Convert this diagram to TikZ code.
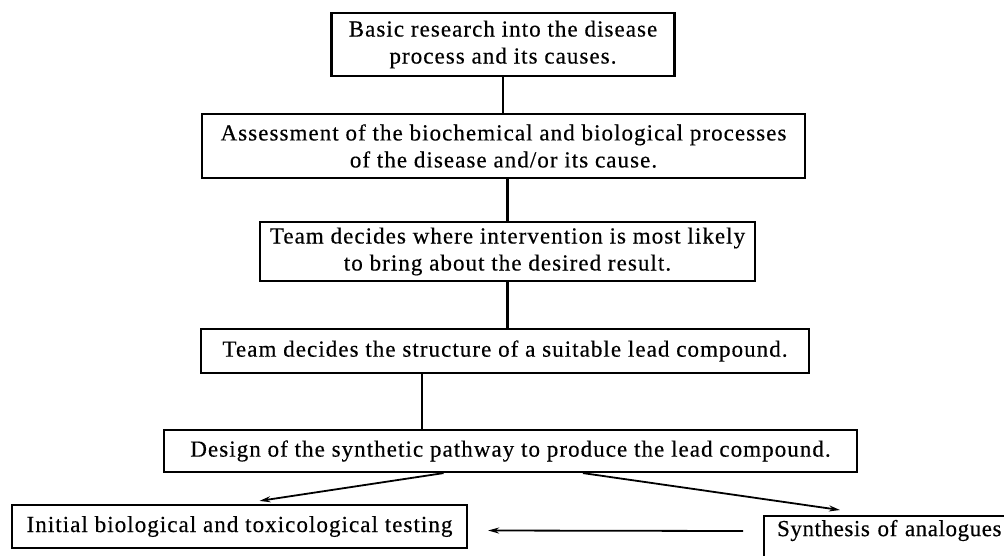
\documentclass[tikz,border=0pt]{standalone}
\usepackage{fontspec}
\setmainfont{Liberation Serif}[LetterSpace=4.6,FakeBold=0.4]
\usetikzlibrary{arrows.meta,calc}
\begin{document}
\begin{tikzpicture}[x=1pt,y=-1pt,
  box/.style={draw,line width=2.2pt,rectangle,inner sep=0pt,align=center,
    font=\fontsize{23}{27}\selectfont},
  link/.style={line width=2.2pt},
  arr/.style={line width=1.8pt,-{Stealth[length=11pt,width=6pt]}}]
\useasboundingbox (0,0) rectangle (1004,555);
\clip (0,0) rectangle (1004,555);
\fill[white] (0,0) rectangle (1004,555);
\node[box,minimum width=343pt,minimum height=63pt] (B1) at (503,44.5)
  {Basic research into the disease\\process and its causes.};
\node[box,minimum width=603pt,minimum height=64pt] (B2) at (503.5,146)
  {Assessment of the biochemical and biological processes\\of the disease and/or its cause.};
\node[box,minimum width=495pt,minimum height=59pt] (B3) at (507.5,251.5)
  {Team decides where intervention is most likely\\to bring about the desired result.};
\node[box,minimum width=608pt,minimum height=44pt] (B4) at (505,351)
  {Team decides the structure of a suitable lead compound.};
\node[box,minimum width=693pt,minimum height=42pt] (B5) at (510.5,451)
  {Design of the synthetic pathway to produce the lead compound.};
\node[box,minimum width=455pt,minimum height=43pt] (B6) at (239.5,526.5)
  {Initial biological and toxicological testing};
\node[box,anchor=north west,align=left,inner xsep=13pt,inner ysep=3pt,
  text width=250pt,text height=17pt,text depth=30pt] (B7) at (763,515)
  {\addfontfeature{LetterSpace=2.5}Synthesis of analogues};
\draw[link] (B1.south) -- (B1.south |- B2.north);
\draw[link] (B3.north |- B2.south) -- (B3.north);
\draw[link] (B3.south) -- (B3.south |- B4.north);
\draw[link] ([xshift=-83pt]B4.south) -- ([xshift=-83pt]B4.south |- B5.north);
\draw[arr] ([xshift=-67pt]B5.south) -- ([xshift=20pt,yshift=3pt]B6.north);
\draw[arr] ([xshift=72.5pt]B5.south) -- ([xshift=77pt,yshift=5pt]B7.north west);
\draw[arr] ([xshift=-20pt,yshift=-16pt]B7.north west) -- ([xshift=20pt,yshift=-4pt]B6.east);
\end{tikzpicture}
\end{document}
